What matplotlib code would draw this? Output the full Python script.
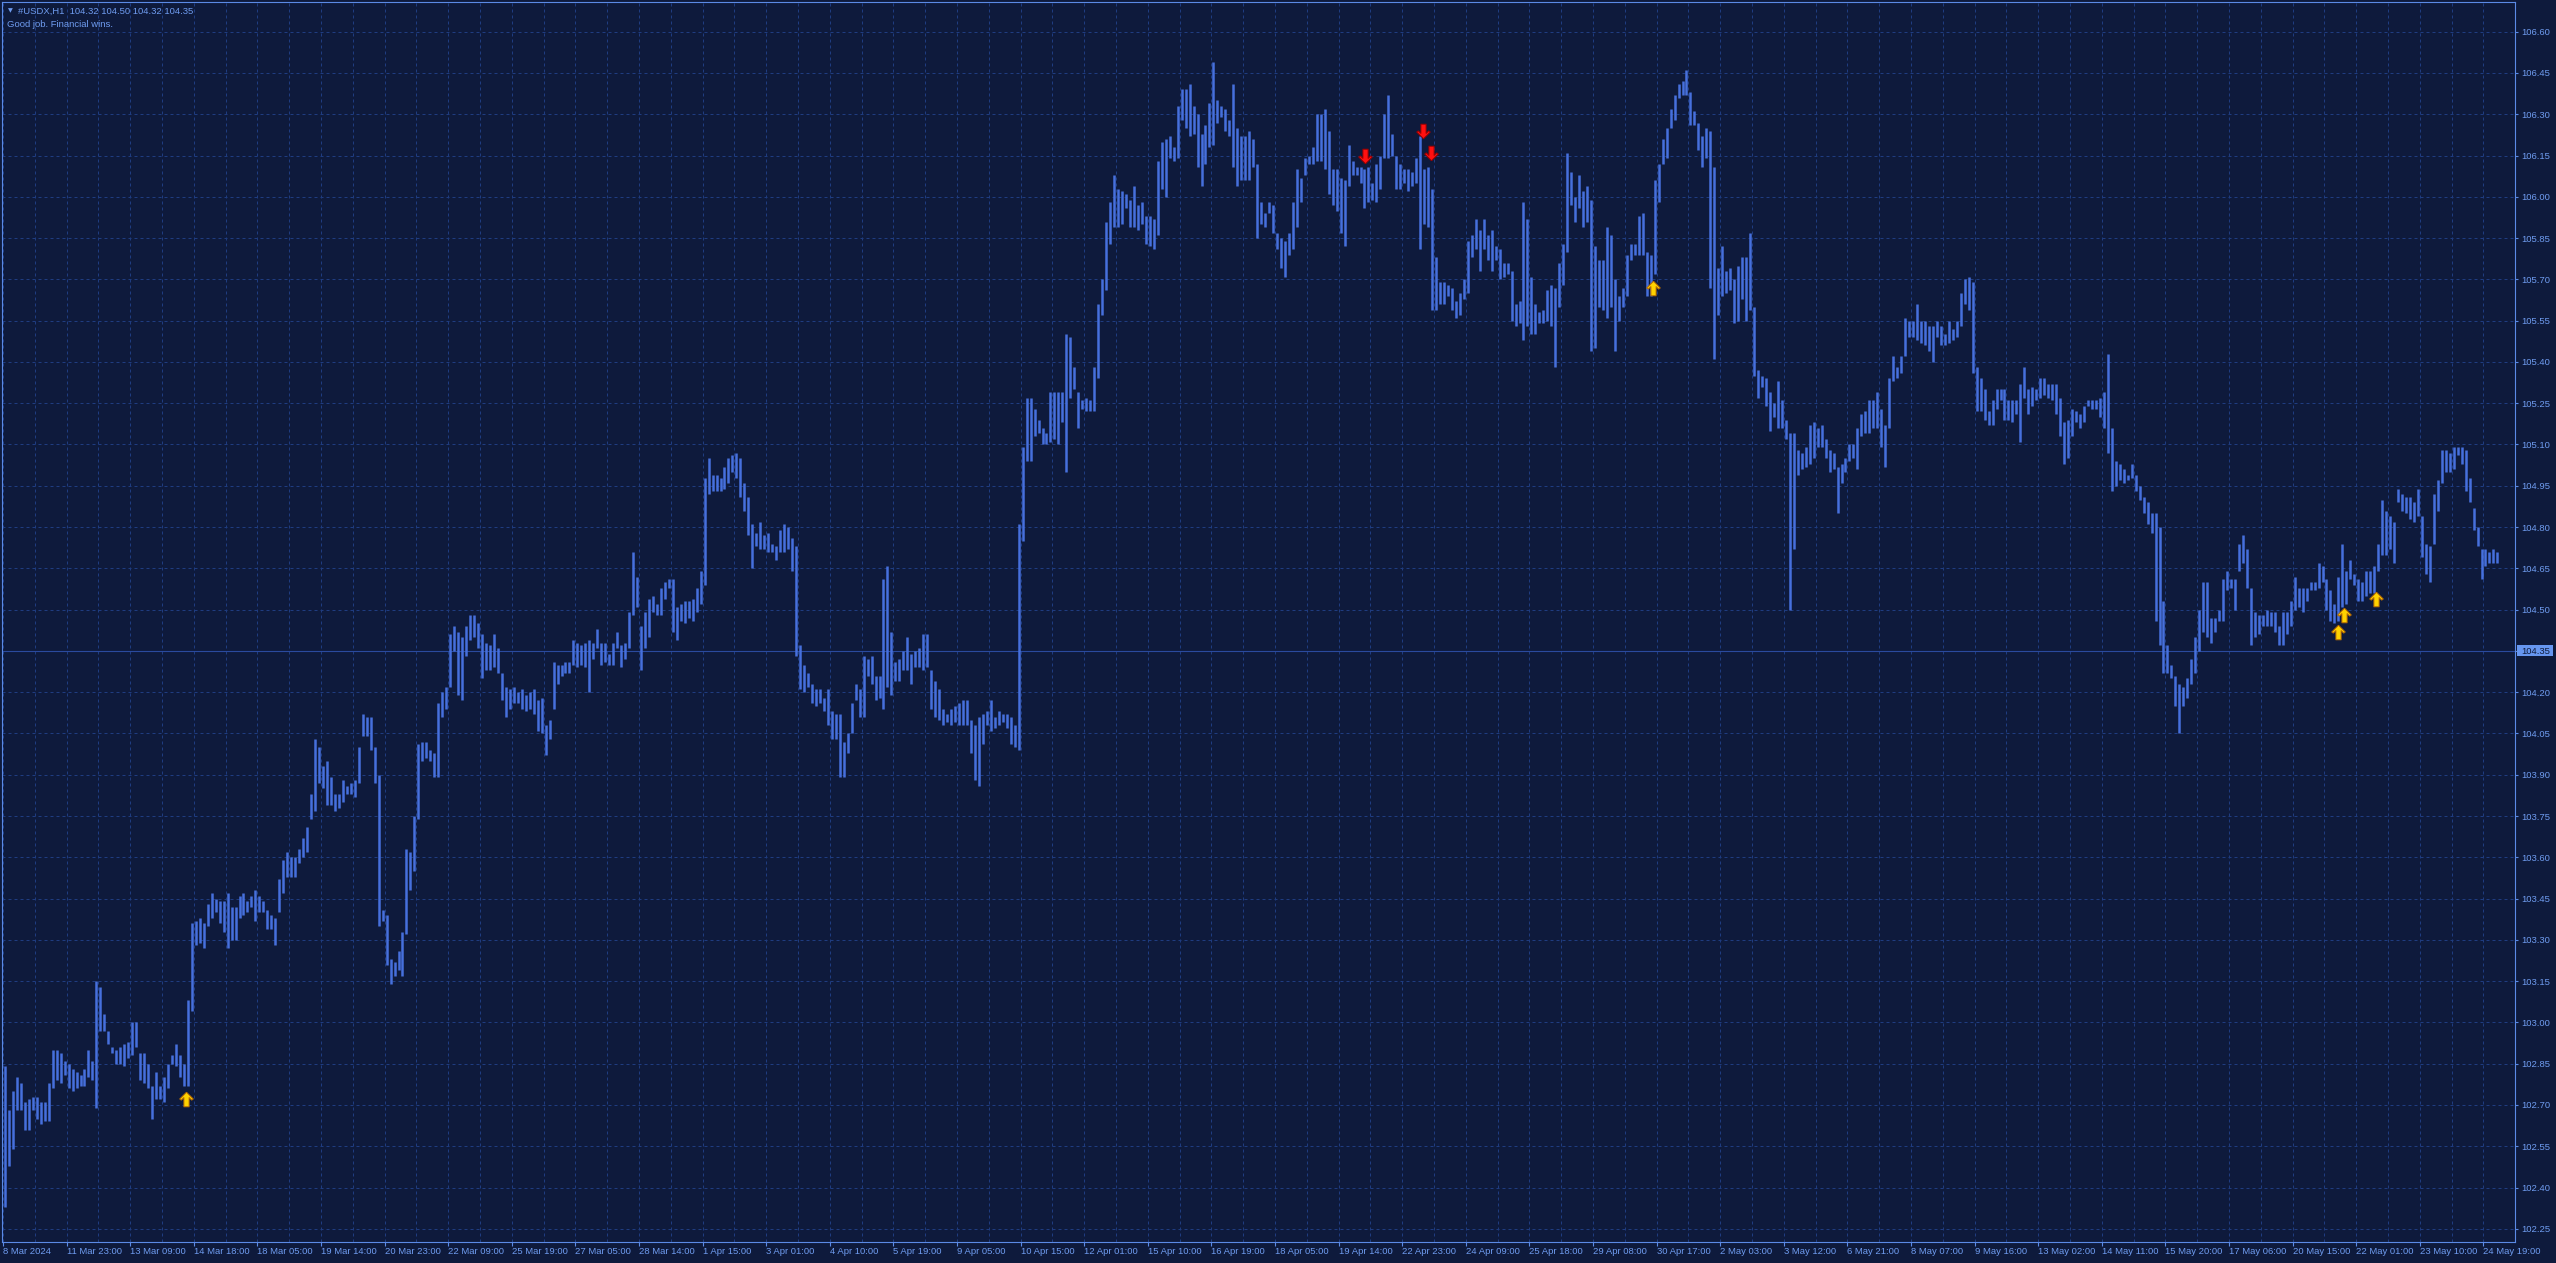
import numpy as np
import matplotlib.pyplot as plt
from matplotlib.path import Path
from matplotlib.patches import Rectangle
import matplotlib.transforms as mtransforms

plt.rcParams['font.family'] = ['Liberation Sans', 'DejaVu Sans']

symbol = '#USDX,H1'
last_ohlc = [104.32, 104.50, 104.32, 104.35]
comment = 'Good job. Financial wins.'

# high / low of each pair of H1 bars
hi_mar = [102.84, 102.68, 102.75, 102.80, 102.78, 102.71, 102.72, 102.73, 102.73, 102.71,
          102.71, 102.78, 102.90, 102.90, 102.89, 102.86, 102.85, 102.83, 102.82, 102.81,
          102.83, 102.90, 102.86, 103.15, 103.13, 103.03, 102.97, 102.91, 102.90, 102.91,
          102.92, 102.93, 103.00, 103.00, 102.89, 102.89, 102.85, 102.77, 102.82, 102.77,
          102.80, 102.85, 102.88, 102.92, 102.88, 102.85, 103.08, 103.36, 103.37, 103.38,
          103.36, 103.43, 103.47, 103.45, 103.44, 103.44, 103.47, 103.42, 103.42, 103.46,
          103.47, 103.44, 103.46, 103.48, 103.46, 103.44, 103.41, 103.39, 103.38, 103.52,
          103.59, 103.62, 103.60, 103.60, 103.63, 103.67, 103.71, 103.83, 104.03, 104.00,
          103.93, 103.95, 103.89, 103.83, 103.83, 103.88, 103.86, 103.87, 103.88, 104.00,
          104.12, 104.11, 104.11, 104.00, 103.90, 103.41, 103.39, 103.23, 103.22, 103.26,
          103.33, 103.63, 103.62, 103.75, 104.01, 104.02, 104.02, 103.99, 103.98, 104.16,
          104.20, 104.22, 104.41, 104.44, 104.42, 104.40, 104.44, 104.48, 104.48, 104.45,
          104.41, 104.38, 104.37, 104.41, 104.36, 104.27, 104.22, 104.21, 104.22, 104.20,
          104.21, 104.19, 104.20, 104.21, 104.17, 104.18, 104.08, 104.10, 104.31, 104.30,
          104.30, 104.31, 104.31, 104.39, 104.38, 104.37, 104.38, 104.39, 104.38, 104.43,
          104.38, 104.38, 104.34, 104.38, 104.42, 104.37, 104.38, 104.49, 104.71, 104.62,
          104.44, 104.49, 104.54, 104.55, 104.52, 104.58, 104.60, 104.61]
lo_mar = [102.33, 102.48, 102.54, 102.68, 102.68, 102.61, 102.61, 102.68, 102.65, 102.63,
          102.64, 102.64, 102.76, 102.79, 102.78, 102.81, 102.76, 102.75, 102.76, 102.77,
          102.77, 102.80, 102.79, 102.69, 102.97, 102.97, 102.92, 102.89, 102.85, 102.85,
          102.84, 102.87, 102.88, 102.91, 102.79, 102.78, 102.76, 102.65, 102.72, 102.72,
          102.71, 102.76, 102.85, 102.84, 102.80, 102.77, 102.77, 103.04, 103.28, 103.29,
          103.27, 103.35, 103.38, 103.40, 103.36, 103.33, 103.27, 103.30, 103.30, 103.38,
          103.39, 103.40, 103.42, 103.37, 103.40, 103.40, 103.34, 103.34, 103.28, 103.40,
          103.47, 103.53, 103.53, 103.53, 103.58, 103.60, 103.62, 103.74, 103.77, 103.87,
          103.85, 103.79, 103.79, 103.77, 103.78, 103.80, 103.83, 103.83, 103.82, 103.87,
          104.04, 104.04, 103.99, 103.87, 103.35, 103.37, 103.21, 103.14, 103.17, 103.19,
          103.17, 103.32, 103.48, 103.55, 103.74, 103.95, 103.96, 103.95, 103.89, 103.89,
          104.11, 104.14, 104.22, 104.35, 104.19, 104.17, 104.33, 104.39, 104.40, 104.36,
          104.25, 104.28, 104.28, 104.29, 104.27, 104.17, 104.11, 104.14, 104.16, 104.16,
          104.14, 104.13, 104.14, 104.12, 104.06, 104.05, 103.97, 104.03, 104.14, 104.23,
          104.26, 104.27, 104.27, 104.30, 104.29, 104.30, 104.29, 104.20, 104.32, 104.36,
          104.30, 104.31, 104.30, 104.30, 104.36, 104.29, 104.32, 104.36, 104.48, 104.51,
          104.28, 104.36, 104.40, 104.49, 104.48, 104.48, 104.54, 104.58]

hi_apr = [104.61, 104.51, 104.52, 104.53, 104.53, 104.54, 104.58, 104.64, 104.98, 105.05,
          104.99, 104.99, 104.98, 105.02, 105.05, 105.06, 105.07, 105.05, 104.96, 104.91,
          104.81, 104.78, 104.82, 104.77, 104.78, 104.74, 104.73, 104.79, 104.81, 104.80,
          104.76, 104.73, 104.37, 104.30, 104.27, 104.23, 104.21, 104.21, 104.18, 104.21,
          104.13, 104.12, 104.12, 104.02, 104.05, 104.16, 104.23, 104.21, 104.33, 104.32,
          104.33, 104.26, 104.26, 104.61, 104.66, 104.42, 104.31, 104.32, 104.35, 104.40,
          104.34, 104.35, 104.36, 104.41, 104.41, 104.28, 104.24, 104.21, 104.14, 104.12,
          104.14, 104.15, 104.16, 104.17, 104.17, 104.10, 104.08, 104.11, 104.12, 104.13,
          104.17, 104.11, 104.13, 104.12, 104.12, 104.11, 104.08, 104.81, 105.09, 105.27,
          105.27, 105.23, 105.19, 105.16, 105.14, 105.29, 105.29, 105.29, 105.29, 105.50,
          105.49, 105.38, 105.29, 105.26, 105.27, 105.26, 105.38, 105.61, 105.70, 105.91,
          105.98, 106.08, 106.03, 106.02, 106.01, 105.99, 106.04, 105.97, 105.98, 105.93,
          105.93, 105.92, 106.13, 106.20, 106.21, 106.22, 106.18, 106.33, 106.39, 106.39,
          106.41, 106.33, 106.30, 106.23, 106.26, 106.34, 106.49, 106.35, 106.33, 106.32,
          106.28, 106.41, 106.25, 106.22, 106.22, 106.24, 106.21, 106.12, 105.98, 105.94,
          105.98, 105.97, 105.87, 105.85, 105.84, 105.87, 105.98, 106.10, 106.07, 106.14,
          106.15, 106.18, 106.30, 106.30, 106.32, 106.24, 106.10, 106.10, 106.07, 106.06,
          106.19, 106.13, 106.11, 106.11, 106.10, 106.11, 106.05, 106.12, 106.15, 106.30,
          106.37, 106.23, 106.15, 106.12, 106.10, 106.10, 106.09, 106.14, 106.22, 106.10,
          106.11, 106.03, 105.78, 105.69, 105.69, 105.68, 105.67, 105.62, 105.65, 105.70,
          105.84, 105.86, 105.92, 105.88, 105.92, 105.86, 105.88, 105.82, 105.81, 105.76,
          105.76, 105.73, 105.61, 105.62, 105.98, 105.92, 105.71, 105.61, 105.58, 105.59,
          105.66, 105.68, 105.67, 105.76, 105.83, 106.16, 106.09, 106.00, 106.08, 106.02,
          106.04, 105.99, 105.82, 105.77, 105.77, 105.89, 105.86, 105.70, 105.64, 105.67,
          105.79, 105.83, 105.83, 105.93, 105.94, 105.80, 105.79, 106.06, 106.12, 106.21]
lo_apr = [104.42, 104.39, 104.46, 104.45, 104.47, 104.46, 104.49, 104.52, 104.59, 104.92,
          104.93, 104.93, 104.93, 104.94, 104.96, 105.00, 104.98, 104.91, 104.86, 104.77,
          104.65, 104.73, 104.72, 104.72, 104.71, 104.71, 104.68, 104.71, 104.71, 104.72,
          104.64, 104.33, 104.21, 104.20, 104.22, 104.16, 104.15, 104.16, 104.13, 104.08,
          104.03, 104.03, 103.89, 103.89, 103.98, 104.05, 104.17, 104.11, 104.11, 104.26,
          104.23, 104.17, 104.18, 104.14, 104.22, 104.19, 104.24, 104.24, 104.28, 104.28,
          104.23, 104.29, 104.29, 104.28, 104.29, 104.14, 104.11, 104.10, 104.08, 104.09,
          104.08, 104.09, 104.08, 104.08, 104.08, 103.98, 103.88, 103.86, 104.01, 104.08,
          104.06, 104.07, 104.08, 104.09, 104.07, 104.01, 104.00, 103.99, 104.75, 105.04,
          105.04, 105.13, 105.14, 105.10, 105.10, 105.11, 105.12, 105.10, 105.18, 105.00,
          105.27, 105.30, 105.16, 105.23, 105.22, 105.22, 105.22, 105.34, 105.57, 105.66,
          105.83, 105.89, 105.89, 105.90, 105.96, 105.89, 105.89, 105.88, 105.90, 105.83,
          105.82, 105.81, 105.86, 106.03, 106.00, 106.14, 106.13, 106.14, 106.28, 106.25,
          106.22, 106.23, 106.11, 106.04, 106.12, 106.18, 106.19, 106.27, 106.29, 106.24,
          106.22, 106.11, 106.04, 106.06, 106.06, 106.06, 106.11, 105.85, 105.90, 105.89,
          105.94, 105.87, 105.81, 105.74, 105.71, 105.79, 105.81, 105.89, 105.98, 106.08,
          106.12, 106.12, 106.13, 106.13, 106.10, 106.01, 105.97, 105.95, 105.87, 105.82,
          106.04, 106.08, 106.08, 106.05, 105.96, 105.98, 105.99, 105.98, 106.03, 106.14,
          106.14, 106.15, 106.03, 106.03, 106.05, 106.02, 106.04, 106.05, 105.81, 105.90,
          105.89, 105.59, 105.59, 105.61, 105.61, 105.64, 105.59, 105.56, 105.57, 105.63,
          105.65, 105.78, 105.81, 105.73, 105.81, 105.77, 105.73, 105.77, 105.70, 105.71,
          105.72, 105.55, 105.53, 105.54, 105.48, 105.53, 105.50, 105.50, 105.54, 105.54,
          105.55, 105.53, 105.38, 105.60, 105.68, 105.80, 105.97, 105.91, 105.96, 105.89,
          105.91, 105.44, 105.45, 105.60, 105.59, 105.56, 105.60, 105.44, 105.55, 105.60,
          105.64, 105.77, 105.79, 105.79, 105.79, 105.64, 105.64, 105.72, 105.98, 106.12]

hi_may = [106.25, 106.32, 106.37, 106.41, 106.42, 106.46, 106.38, 106.31, 106.27, 106.22,
          106.25, 106.24, 106.11, 105.74, 105.82, 105.73, 105.74, 105.70, 105.75, 105.78,
          105.78, 105.87, 105.60, 105.37, 105.35, 105.34, 105.29, 105.25, 105.33, 105.26,
          105.19, 105.14, 105.14, 105.08, 105.07, 105.09, 105.17, 105.18, 105.16, 105.17,
          105.12, 105.08, 105.07, 105.02, 105.03, 105.05, 105.10, 105.10, 105.16, 105.21,
          105.22, 105.26, 105.26, 105.29, 105.23, 105.17, 105.34, 105.42, 105.38, 105.42,
          105.56, 105.55, 105.55, 105.61, 105.55, 105.55, 105.53, 105.53, 105.55, 105.53,
          105.50, 105.55, 105.52, 105.55, 105.65, 105.70, 105.71, 105.69, 105.38, 105.34,
          105.30, 105.22, 105.26, 105.30, 105.30, 105.30, 105.26, 105.26, 105.26, 105.32,
          105.38, 105.30, 105.31, 105.30, 105.34, 105.34, 105.32, 105.32, 105.32, 105.27,
          105.18, 105.19, 105.23, 105.22, 105.21, 105.24, 105.26, 105.26, 105.26, 105.27,
          105.29, 105.43, 105.16, 105.04, 105.03, 105.01, 104.99, 105.03, 104.99, 104.95,
          104.91, 104.89, 104.85, 104.85, 104.80, 104.53, 104.37, 104.30, 104.26, 104.23,
          104.22, 104.25, 104.32, 104.40, 104.50, 104.60, 104.60, 104.47, 104.47, 104.50,
          104.61, 104.64, 104.61, 104.61, 104.74, 104.77, 104.72, 104.58, 104.49, 104.48,
          104.48, 104.50, 104.49, 104.49, 104.44, 104.49, 104.49, 104.53, 104.62, 104.58,
          104.58, 104.58, 104.60, 104.60, 104.67, 104.66, 104.61, 104.57, 104.52, 104.62,
          104.74, 104.64, 104.68, 104.63, 104.61, 104.60, 104.64, 104.64, 104.66, 104.74,
          104.90, 104.86, 104.84, 104.82, 104.94, 104.92, 104.91, 104.91, 104.89, 104.94,
          104.84, 104.74, 104.73, 104.92, 104.97, 105.08, 105.08, 105.07, 105.09, 105.09,
          105.09, 105.08, 104.98, 104.87, 104.80, 104.72, 104.72, 104.71, 104.72, 104.71]
lo_may = [106.14, 106.25, 106.28, 106.36, 106.37, 106.37, 106.26, 106.26, 106.17, 106.11,
          106.14, 105.67, 105.41, 105.57, 105.64, 105.65, 105.66, 105.54, 105.55, 105.63,
          105.55, 105.59, 105.35, 105.27, 105.31, 105.24, 105.15, 105.20, 105.16, 105.16,
          105.12, 104.50, 104.72, 104.99, 105.01, 105.02, 105.03, 105.05, 105.09, 105.09,
          105.05, 105.00, 105.01, 104.85, 104.96, 105.00, 105.04, 105.05, 105.01, 105.13,
          105.14, 105.14, 105.16, 105.16, 105.09, 105.02, 105.16, 105.33, 105.34, 105.36,
          105.42, 105.49, 105.49, 105.48, 105.47, 105.46, 105.44, 105.40, 105.49, 105.46,
          105.46, 105.47, 105.48, 105.49, 105.53, 105.61, 105.59, 105.36, 105.22, 105.22,
          105.19, 105.17, 105.17, 105.23, 105.26, 105.19, 105.19, 105.18, 105.21, 105.11,
          105.27, 105.21, 105.24, 105.26, 105.27, 105.28, 105.27, 105.26, 105.21, 105.13,
          105.03, 105.05, 105.13, 105.18, 105.16, 105.18, 105.24, 105.23, 105.23, 105.20,
          105.16, 105.07, 104.93, 104.95, 104.97, 104.96, 104.97, 104.98, 104.93, 104.90,
          104.85, 104.81, 104.78, 104.46, 104.37, 104.27, 104.27, 104.25, 104.15, 104.05,
          104.15, 104.18, 104.23, 104.27, 104.35, 104.42, 104.40, 104.38, 104.42, 104.46,
          104.46, 104.57, 104.58, 104.50, 104.64, 104.67, 104.58, 104.37, 104.40, 104.41,
          104.44, 104.44, 104.44, 104.42, 104.37, 104.37, 104.41, 104.44, 104.50, 104.51,
          104.49, 104.53, 104.57, 104.57, 104.58, 104.60, 104.50, 104.46, 104.45, 104.46,
          104.51, 104.52, 104.61, 104.59, 104.53, 104.53, 104.55, 104.56, 104.56, 104.64,
          104.70, 104.70, 104.72, 104.67, 104.89, 104.86, 104.85, 104.83, 104.82, 104.84,
          104.69, 104.63, 104.60, 104.74, 104.86, 104.96, 105.00, 105.00, 105.01, 105.06,
          105.03, 104.93, 104.89, 104.79, 104.73, 104.61, 104.66, 104.67, 104.67, 104.67]

time_labels = ['8 Mar 2024', '11 Mar 23:00', '13 Mar 09:00', '14 Mar 18:00', '18 Mar 05:00',
               '19 Mar 14:00', '20 Mar 23:00', '22 Mar 09:00', '25 Mar 19:00', '27 Mar 05:00',
               '28 Mar 14:00', '1 Apr 15:00', '3 Apr 01:00', '4 Apr 10:00', '5 Apr 19:00',
               '9 Apr 05:00', '10 Apr 15:00', '12 Apr 01:00', '15 Apr 10:00', '16 Apr 19:00',
               '18 Apr 05:00', '19 Apr 14:00', '22 Apr 23:00', '24 Apr 09:00', '25 Apr 18:00',
               '29 Apr 08:00', '30 Apr 17:00', '2 May 03:00', '3 May 12:00', '6 May 21:00',
               '8 May 07:00', '9 May 16:00', '13 May 02:00', '14 May 11:00', '15 May 20:00',
               '17 May 06:00', '20 May 15:00', '22 May 01:00', '23 May 10:00', '24 May 19:00']

# signal arrows: bar index and price
buy_bar = [91.5, 829.5, 1174.5, 1177.5, 1193.5]
buy_price = [102.72, 105.67, 104.42, 104.48, 104.54]
sell_bar = [685.0, 713.75, 718.0]
sell_price = [106.15, 106.24, 106.16]

hi = np.array(hi_mar + hi_apr + hi_may)
lo = np.array(lo_mar + lo_apr + lo_may)
xb = 2 * np.arange(len(hi)) + 0.5

bg = '#0e1a3c'
frame = '#5b8ae6'
txt = '#6f9cf0'
gridc = '#1f3c80'
barc = '#4670dd'

fig = plt.figure(figsize=(25.56, 12.63), dpi=100, facecolor=bg)
ax = fig.add_axes([2.3 / 2556, 1 - 1241.8 / 1263, 2513 / 2556, 1239.5 / 1263])
ax.set_facecolor(bg)
for s in ax.spines.values():
    s.set_color(frame)
    s.set_linewidth(0.8)

ax.vlines(xb, lo, hi, colors=barc, linewidth=1.8, zorder=3)

# current price line
ax.axhline(last_ohlc[3], color='#2a4a9e', linewidth=0.8, zorder=2)

up = [(0, 7), (6.5, 0.5), (5, -0.6), (2.5, 1.8), (2.5, -7), (-2.5, -7), (-2.5, 1.8),
      (-5, -0.6), (-6.5, 0.5), (0, 7)]
down = [(x, -y) for x, y in up]
ax.plot(buy_bar, buy_price, ls='none', marker=Path(up), ms=10.5,
        mfc='#ffd200', mec='#b86a00', mew=0.7, zorder=4)
ax.plot(sell_bar, sell_price, ls='none', marker=Path(down), ms=10.5,
        mfc='#ff1010', mec='#9a0000', mew=0.7, zorder=4)

ax.set_xlim(-0.85, 1255.65)
ax.set_ylim(102.2028, 106.7068)

ax.set_xticks(np.arange(len(time_labels)) * 32 - 0.5)
ax.set_xticklabels(time_labels)
ax.set_xticks(np.arange(80) * 16 - 0.5, minor=True)
for lbl in ax.get_xticklabels():
    lbl.set_ha('left')
ax.tick_params(axis='x', which='major', direction='out', length=2.9, width=0.8,
               color=frame, labelcolor=txt, labelsize=6.8, pad=0.8)
ax.tick_params(axis='x', which='minor', length=0)

yt = np.arange(30) * 0.15 + 102.25
ax.yaxis.tick_right()
ax.set_yticks(yt)
ax.set_yticklabels(['%.2f' % v for v in yt])
ax.tick_params(axis='y', direction='out', length=2.2, width=0.8,
               color=frame, labelcolor=txt, labelsize=6.8, pad=2.4)

ax.grid(which='both', axis='x', color=gridc, linestyle=(0, (3, 3)), linewidth=0.72, zorder=1)
ax.grid(which='major', axis='y', color=gridc, linestyle=(0, (3, 3)), linewidth=0.72, zorder=1)
ax.set_axisbelow(True)

# price tag on the right
trans = mtransforms.blended_transform_factory(ax.transAxes, ax.transData)
ax.add_patch(Rectangle((1 + 1.4 / 2513, last_ohlc[3] - 0.02), 36 / 2513, 0.04,
                       transform=trans, facecolor='#6696f0', edgecolor='none',
                       clip_on=False, zorder=5))
ax.text(1 + 6.4 / 2513, last_ohlc[3], '%.2f' % last_ohlc[3], transform=trans,
        color='#0e1a3c', fontsize=6.8, va='center_baseline', ha='left', zorder=6)

# header
fig.text(10 / 2556, 1 - 11 / 1263, '▼', family='DejaVu Sans', fontsize=4.5,
         color=txt, ha='center', va='center')
fig.text(18 / 2556, 1 - 14 / 1263, symbol + '  ' + ' '.join('%.2f' % v for v in last_ohlc),
         color=txt, fontsize=6.8, ha='left', va='baseline')
fig.text(7 / 2556, 1 - 27.3 / 1263, comment, color=txt, fontsize=6.8, ha='left', va='baseline')

plt.savefig('out.png', dpi=100, facecolor=bg)
